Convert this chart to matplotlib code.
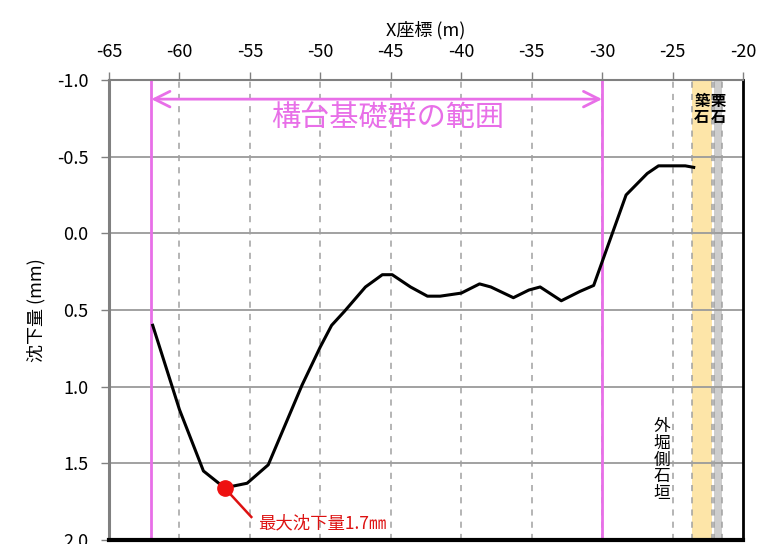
import matplotlib.pyplot as plt

plt.rcParams['font.family'] = ['Noto Sans CJK JP', 'DejaVu Sans']
plt.rcParams['axes.unicode_minus'] = False

# 沈下量の測線データ (X座標 m, 沈下量 mm)
x_pos = [-61.9, -60.0, -58.3, -56.8, -55.2, -53.7, -51.3, -50.0, -49.2, -48.3,
         -46.8, -45.6, -44.9, -43.6, -42.4, -41.5, -40.0, -38.7, -37.9, -36.3,
         -35.2, -34.4, -32.9, -31.6, -30.6, -28.3, -26.8, -26.0, -25.0, -24.1,
         -23.5]
settle = [0.60, 1.15, 1.55, 1.66, 1.63, 1.51, 0.99, 0.74, 0.60, 0.51,
          0.35, 0.27, 0.27, 0.35, 0.41, 0.41, 0.39, 0.33, 0.35, 0.42,
          0.37, 0.35, 0.44, 0.38, 0.34, -0.25, -0.39, -0.44, -0.44, -0.44,
          -0.43]

max_x, max_val = -56.8, 1.66
range_x = [-62.0, -30.0]
tsukiishi = [-23.65, -22.2]
guriishi = [-22.05, -21.5]

x_ticks = [-65, -60, -55, -50, -45, -40, -35, -30, -25, -20]
y_ticks = [-1.0, -0.5, 0.0, 0.5, 1.0, 1.5, 2.0]

magenta = '#E86FE8'

fig = plt.figure(figsize=(7.76, 5.44), dpi=100)
ax = fig.add_axes([0.1405, 0.0074, 0.817, 0.8456])

ax.set_xlim(-65, -20)
ax.set_ylim(2.0, -1.0)
ax.set_xticks(x_ticks)
ax.set_yticks(y_ticks)
ax.set_yticklabels(['%.1f' % v for v in y_ticks])

ax.xaxis.tick_top()
ax.xaxis.set_label_position('top')
ax.tick_params(axis='x', length=6, width=1, color='#808080', pad=8, labelsize=13)
ax.tick_params(axis='y', length=6, width=1, color='#808080', pad=9, labelsize=13)
ax.set_xlabel('X座標 (m)', fontsize=13, labelpad=5)
ax.set_ylabel('沈下量 (mm)', fontsize=13, labelpad=8)

# 目盛線
for v in y_ticks:
    ax.axhline(v, color='#9a9a9a', lw=1.3, zorder=1)
for v in x_ticks[1:-1]:
    ax.axvline(v, color='#a0a0a0', lw=1.1, ls=(0, (4, 4)), zorder=1)

# 築石・栗石の帯
ax.axvspan(tsukiishi[0], tsukiishi[1], color='#FDE5A8', lw=0, zorder=0.5)
ax.axvspan(guriishi[0], guriishi[1], color='#CDCDCD', lw=0, zorder=0.5)
for v in tsukiishi + guriishi:
    ax.axvline(v, color='#a0a0a0', lw=1.1, ls=(0, (4, 4)), zorder=1)
ax.text(sum(tsukiishi) / 2, -0.81, '築\n石', ha='center', va='center',
        fontsize=11, linespacing=1.0, fontweight='bold', zorder=4)
ax.text(sum(guriishi) / 2 + 0.05, -0.81, '栗\n石', ha='center', va='center',
        fontsize=11, linespacing=1.0, fontweight='bold', zorder=4)
ax.text(-25.75, 1.48, '外\n堀\n側\n石\n垣', ha='center', va='center',
        fontsize=12, linespacing=0.98, zorder=4)

# 構台基礎群の範囲
for v in range_x:
    ax.axvline(v, color=magenta, lw=2, zorder=2)
ax.annotate('', xy=(range_x[0], -0.875), xytext=(range_x[1], -0.875),
            arrowprops=dict(arrowstyle='<->', color=magenta, lw=2,
                            mutation_scale=28, shrinkA=0, shrinkB=0),
            zorder=3)
ax.text(-45.2, -0.75, '構台基礎群の範囲', ha='center',
        va='center', fontsize=21, color=magenta, zorder=3)

# 沈下量
ax.plot(x_pos, settle, color='black', lw=2.2, zorder=5)
ax.plot(max_x, max_val, 'o', color='#EE1111', ms=11, zorder=6)
ax.plot([max_x, -54.9], [max_val, 1.85], color='#DD1111', lw=1.8, zorder=5)
ax.text(-54.4, 1.89, '最大沈下量1.7㎜', color='#DD1111', fontsize=12.5,
        ha='left', va='center', zorder=6)

for side, c, w in [('left', '#808080', 2.2), ('top', '#808080', 1.5),
                   ('right', 'black', 2.0), ('bottom', 'black', 3.0)]:
    ax.spines[side].set_color(c)
    ax.spines[side].set_linewidth(w)
    ax.spines[side].set_zorder(7)

fig.savefig('out.png', dpi=100)
